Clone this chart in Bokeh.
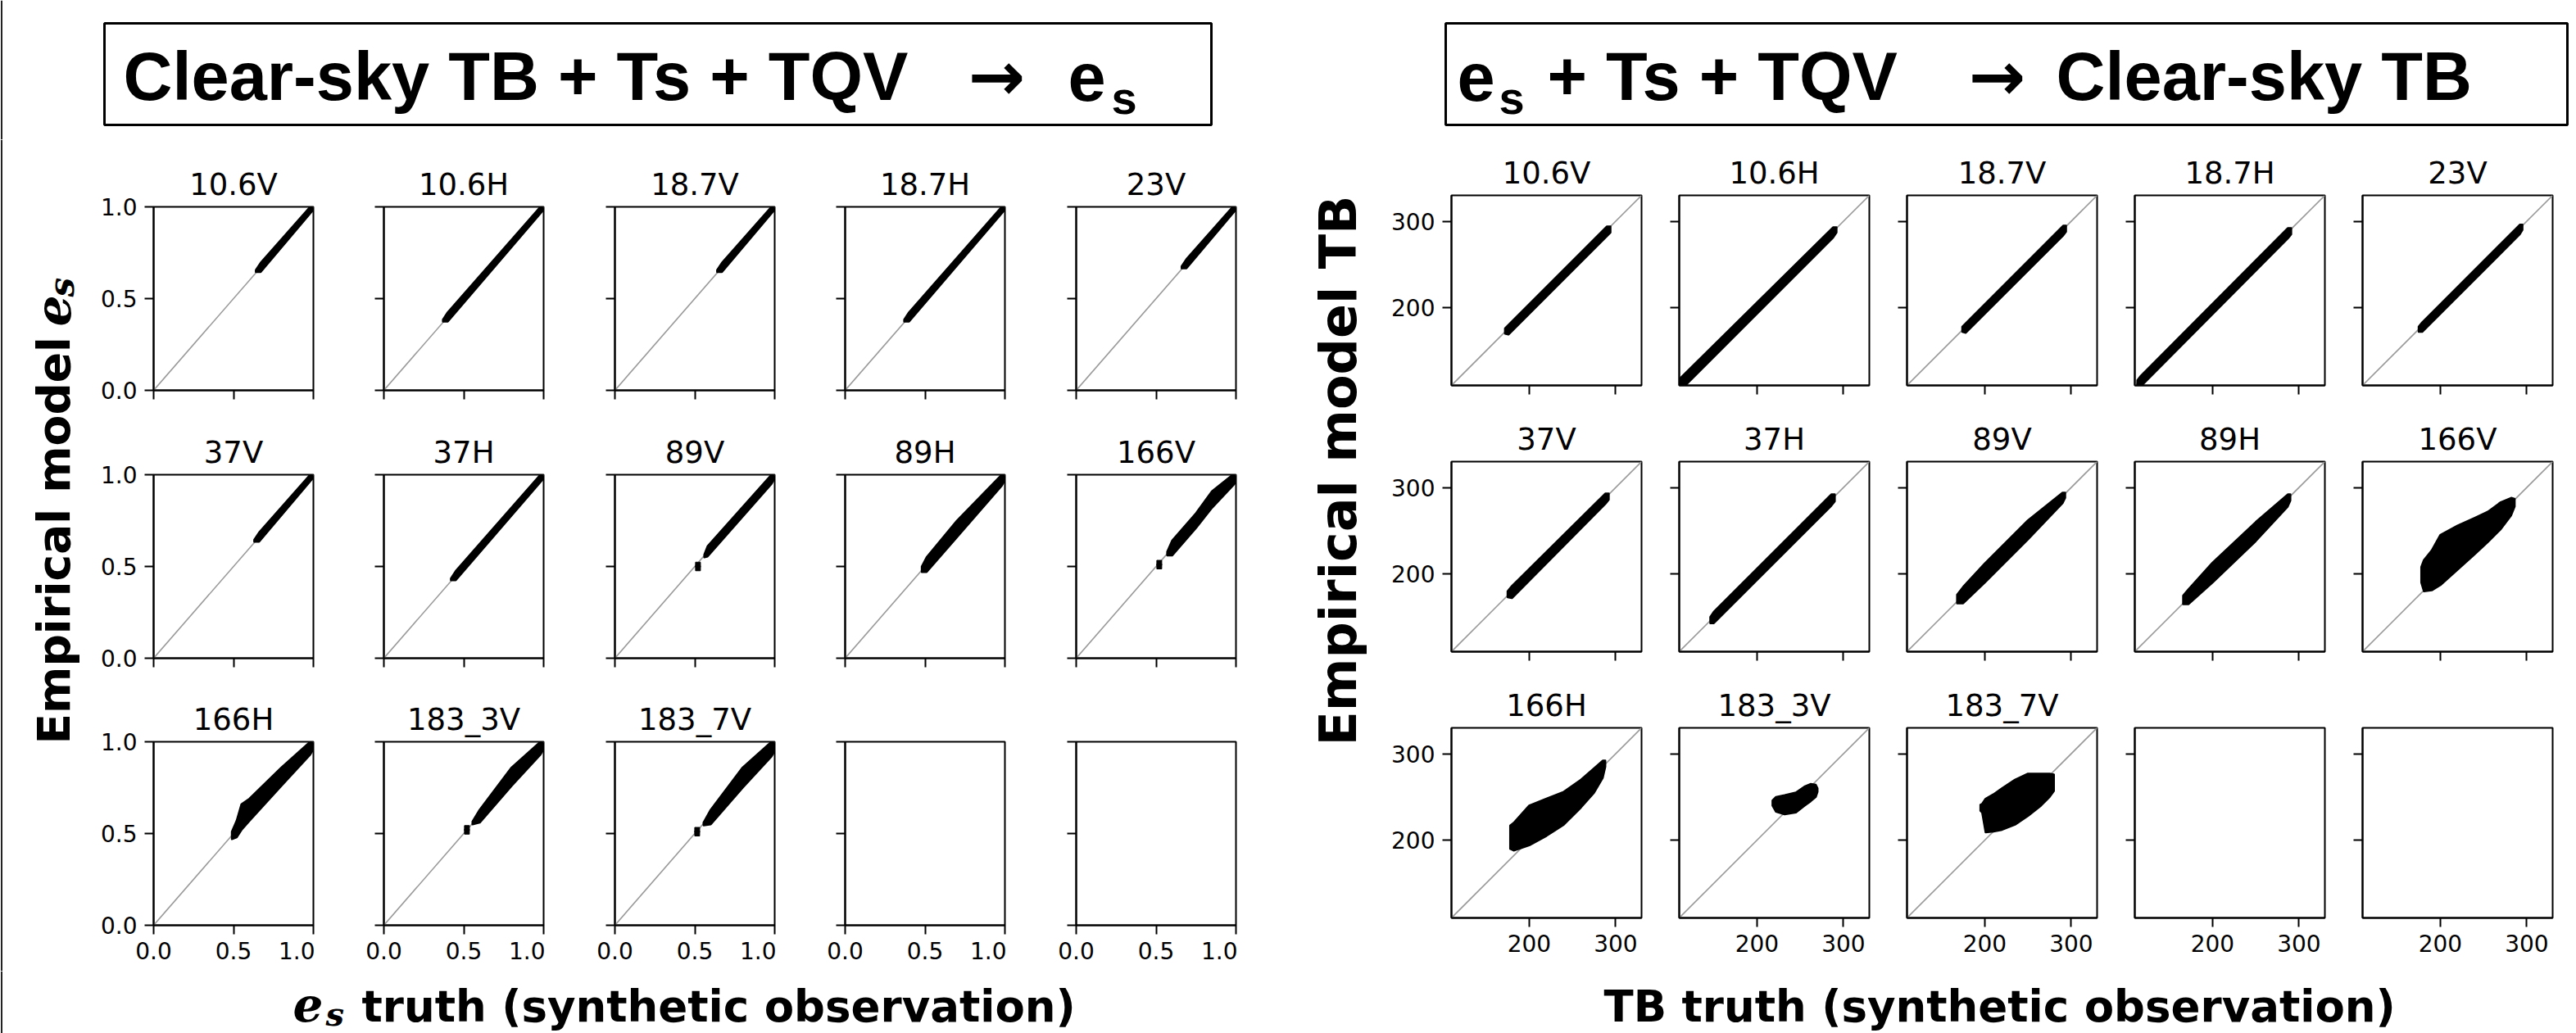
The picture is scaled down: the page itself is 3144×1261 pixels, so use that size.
import math
from bokeh.plotting import figure
from bokeh.layouts import row, column
from bokeh.models import (Range1d, Label, BoxAnnotation, FixedTicker, Span,
                          PrintfTickFormatter, CustomJSTickFormatter)
from bokeh.embed import file_html
from bokeh.resources import INLINE

# ---------------- data ----------------
channels = ["10.6V", "10.6H", "18.7V", "18.7H", "23V",
            "37V", "37H", "89V", "89H", "166V",
            "166H", "183_3V", "183_7V"]

es_limits = [0.0, 1.0]
es_ticks = [0.0, 0.5, 1.0]
tb_limits = [110.0, 330.0]
tb_ticks = [200, 300]

# emissivity panel: truth (x) with lower / upper edge of the model cloud
es_x = {
    "10.6V": [0.64, 0.67, 0.98, 1.00],
    "10.6H": [0.37, 0.40, 0.98, 1.00],
    "18.7V": [0.64, 0.67, 0.98, 1.00],
    "18.7H": [0.37, 0.40, 0.98, 1.00],
    "23V": [0.66, 0.69, 0.98, 1.00],
    "37V": [0.63, 0.66, 0.98, 1.00],
    "37H": [0.42, 0.45, 0.98, 1.00],
    "89V": [0.56, 0.58, 0.98, 1.00],
    "89H": [0.48, 0.51, 0.70, 0.98, 1.00],
    "166V": [0.57, 0.60, 0.75, 0.85, 0.98, 1.00],
    "166H": [0.49, 0.52, 0.55, 0.60, 0.80, 0.98, 1.00],
    "183_3V": [0.555, 0.60, 0.80, 0.98, 1.00],
    "183_7V": [0.555, 0.60, 0.80, 0.98, 1.00],
}
es_lo = {
    "10.6V": [0.645, 0.645, 0.965, 0.985],
    "10.6H": [0.375, 0.375, 0.965, 0.985],
    "18.7V": [0.645, 0.645, 0.965, 0.985],
    "18.7H": [0.375, 0.375, 0.965, 0.985],
    "23V": [0.665, 0.665, 0.965, 0.985],
    "37V": [0.635, 0.635, 0.965, 0.985],
    "37H": [0.425, 0.425, 0.96, 0.98],
    "89V": [0.55, 0.555, 0.95, 0.98],
    "89H": [0.47, 0.47, 0.66, 0.94, 0.97],
    "166V": [0.56, 0.56, 0.71, 0.82, 0.94, 0.96],
    "166H": [0.47, 0.48, 0.52, 0.57, 0.76, 0.93, 0.96],
    "183_3V": [0.55, 0.56, 0.76, 0.93, 0.96],
    "183_7V": [0.545, 0.55, 0.75, 0.92, 0.95],
}
es_hi = {
    "10.6V": [0.655, 0.695, 1.00, 1.00],
    "10.6H": [0.385, 0.425, 1.00, 1.00],
    "18.7V": [0.655, 0.695, 1.00, 1.00],
    "18.7H": [0.385, 0.425, 1.00, 1.00],
    "23V": [0.675, 0.715, 1.00, 1.00],
    "37V": [0.645, 0.685, 1.00, 1.00],
    "37H": [0.435, 0.475, 1.00, 1.00],
    "89V": [0.565, 0.61, 1.00, 1.00],
    "89H": [0.50, 0.55, 0.75, 1.00, 1.00],
    "166V": [0.58, 0.64, 0.79, 0.91, 1.00, 1.00],
    "166H": [0.51, 0.57, 0.66, 0.69, 0.86, 1.00, 1.00],
    "183_3V": [0.565, 0.63, 0.86, 1.00, 1.00],
    "183_7V": [0.56, 0.63, 0.86, 1.00, 1.00],
}
# isolated emissivity points
es_out_x = {"89V": [0.52, 0.52], "166V": [0.52, 0.52],
            "183_3V": [0.52, 0.52], "183_7V": [0.515, 0.515]}
es_out_y = {"89V": [0.49, 0.51], "166V": [0.50, 0.52],
            "183_3V": [0.51, 0.53], "183_7V": [0.50, 0.52]}

# brightness-temperature panel: truth (x) with lower / upper edge of the model cloud
tb_x = {
    "10.6V": [172, 176, 290, 294],
    "10.6H": [108, 112, 288, 292],
    "18.7V": [174, 178, 291, 294],
    "18.7H": [113, 117, 287, 291],
    "23V": [175, 179, 292, 295],
    "37V": [175, 180, 288, 292],
    "37H": [146, 150, 286, 290],
    "89V": [168, 175, 200, 250, 290, 293],
    "89H": [166, 172, 200, 250, 287, 290],
    "166V": [178, 181, 190, 200, 220, 240, 255, 270, 282, 286],
    "166H": [178, 182, 200, 220, 240, 260, 275, 285, 288],
    "183_3V": [218, 222, 232, 245, 255, 262, 268, 270],
    "183_7V": [195, 197, 201, 210, 220, 235, 250, 265, 275, 280],
}
tb_lo = {
    "10.6V": [170, 169, 283, 287],
    "10.6H": [104, 105, 281, 287],
    "18.7V": [172, 171, 284, 288],
    "18.7H": [110, 109, 280, 285],
    "23V": [172, 172, 285, 290],
    "37V": [173, 172, 281, 286],
    "37H": [143, 143, 279, 284],
    "89V": [166, 166, 190, 240, 282, 288],
    "89H": [165, 165, 190, 238, 278, 285],
    "166V": [190, 180, 181, 187, 205, 223, 237, 252, 268, 278],
    "166H": [190, 188, 194, 205, 218, 238, 255, 272, 285],
    "183_3V": [240, 233, 230, 232, 240, 245, 250, 256],
    "183_7V": [234, 232, 209, 210, 212, 218, 228, 240, 250, 257],
}
tb_hi = {
    "10.6V": [176, 180, 294, 294],
    "10.6H": [114, 119, 293, 293],
    "18.7V": [178, 182, 295, 295],
    "18.7H": [116, 121, 292, 292],
    "23V": [178, 183, 296, 296],
    "37V": [180, 186, 293, 293],
    "37H": [150, 156, 292, 292],
    "89V": [176, 185, 212, 262, 294, 294],
    "89H": [175, 182, 213, 260, 292, 292],
    "166V": [208, 216, 227, 245, 256, 265, 272, 283, 288, 287],
    "166H": [217, 220, 240, 248, 256, 270, 283, 292, 292],
    "183_3V": [246, 250, 252, 255, 262, 265, 264, 260],
    "183_7V": [241, 242, 248, 253, 260, 270, 277, 277, 277, 276],
}

left_title = ["Clear-sky TB + Ts + TQV", "\u2192", "e", "s"]
right_title = ["e", "s", "+ Ts + TQV", "\u2192", "Clear-sky TB"]
left_ylabel = ["Empirical model ", "e", "s"]
right_ylabel = "Empirical model TB"
left_xlabel = ["e", "s", "truth (synthetic observation)"]
right_xlabel = "TB truth (synthetic observation)"

# ---------------- helpers ----------------
DIAG = "#9a9a9a"
W, H = 3144, 1261


def style_axis(ax, ticks, fmt, show):
    ax.ticker = FixedTicker(ticks=ticks)
    ax.axis_line_width = 2
    ax.axis_line_color = "black"
    ax.major_tick_line_width = 2
    ax.major_tick_line_color = "black"
    ax.major_tick_out = 11
    ax.major_tick_in = 0
    ax.minor_tick_line_color = None
    ax.major_label_standoff = 9
    ax.major_label_text_font = "DejaVu Sans"
    ax.major_label_text_color = "black"
    if show:
        ax.formatter = PrintfTickFormatter(format=fmt)
        ax.major_label_text_font_size = "28px"
    else:
        ax.formatter = CustomJSTickFormatter(code="return ''")
        ax.major_label_text_font_size = "0px"


def make_sub(name, lim, ticks, fmt, cx, clo, chi, ox, oy,
             show_x, show_y, L, T, B, fw, fh):
    R = 2
    p = figure(width=L + fw + R, height=T + fh + B,
               x_range=Range1d(lim[0], lim[1]), y_range=Range1d(lim[0], lim[1]),
               min_border_left=L, min_border_right=R,
               min_border_top=T, min_border_bottom=B,
               output_backend="svg", toolbar_location=None,
               title=name if name else "")
    p.title.align = "center"
    p.title.text_font = "DejaVu Sans"
    p.title.text_font_size = "37px"
    p.title.text_font_style = "normal"
    p.title.text_color = "black"
    p.title.standoff = 12
    p.grid.visible = False
    p.outline_line_color = "black"
    p.outline_line_width = 2
    p.background_fill_color = "white"
    p.border_fill_color = "white"
    style_axis(p.xaxis[0], ticks, fmt, show_x)
    style_axis(p.yaxis[0], ticks, fmt, show_y)
    if name:
        p.line(lim, lim, color=DIAG, line_width=1.6)
        px = cx + cx[::-1]
        py = chi + clo[::-1]
        p.patch(px, py, fill_color="black", line_color="black",
                line_width=2.5, line_join="round")
        if ox:
            p.scatter(ox, oy, marker="square", size=6, color="black")
    return p


def canvas(x0, x1, y0, y1):
    # a text canvas whose data coordinates are page pixels (y downward)
    p = figure(width=x1 - x0, height=y1 - y0,
               x_range=Range1d(x0, x1), y_range=Range1d(y1, y0),
               min_border=0, output_backend="svg", toolbar_location=None,
               x_axis_location=None, y_axis_location=None)
    p.outline_line_color = None
    p.grid.visible = False
    p.background_fill_color = "white"
    p.border_fill_color = "white"
    return p


DESC = {"Liberation Sans": 0.212, "DejaVu Sans": 0.236, "DejaVu Serif": 0.236}


def txt(p, x, y, s, size, font="DejaVu Sans", style="bold", rotated=False, has_desc=True):
    # (x, y) is the alphabetic baseline start; anchor on the text box bottom
    d = DESC[font] * size if has_desc else 0.0
    if rotated:
        lx, ly, ang = x + d, y, math.pi / 2
    else:
        lx, ly, ang = x, y + d, 0.0
    p.add_layout(Label(x=lx, y=ly, text=s, text_font=font,
                       text_font_size=f"{size}px", text_font_style=style,
                       text_color="black", angle=ang, angle_units="rad",
                       text_align="left", text_baseline="bottom"))


def edge(p):
    p.add_layout(Span(location=1.5, dimension="height",
                      line_color="#222222", line_width=2))


# ---------------- header ----------------
head = canvas(0, W, 0, 170)
edge(head)
for l, r in ((127, 1478), (1764, 3133)):
    head.add_layout(BoxAnnotation(left=l, right=r, top=28, bottom=152,
                                  fill_alpha=0, line_color="black",
                                  line_alpha=1.0, line_width=3))
HF = "Liberation Sans"
txt(head, 150, 122, left_title[0], 83, HF)
txt(head, 1181, 122, left_title[1], 83, "DejaVu Sans")
txt(head, 1303, 122, left_title[2], 83, HF, has_desc=False)
txt(head, 1356, 150, left_title[3], 56, HF, has_desc=False)
txt(head, 1778, 122, right_title[0], 83, HF, has_desc=False)
txt(head, 1829, 150, right_title[1], 56, HF, has_desc=False)
txt(head, 1888, 122, right_title[2], 83, HF)
txt(head, 2402, 122, right_title[3], 83, "DejaVu Sans")
txt(head, 2509, 122, right_title[4], 83, HF)

# ---------------- subplot grids ----------------
left_L = [87, 84, 85, 84, 85]
left_T = [82, 73, 72]
left_B = [30, 30, 56]
right_L = [81, 44, 44, 44, 44]
right_T = [68, 63, 63]
right_B = [30, 30, 65]

left_rows, right_rows = [], []
for r in range(3):
    lrow, rrow = [], []
    for c in range(5):
        i = r * 5 + c
        name = channels[i] if i < len(channels) else None
        lrow.append(make_sub(
            name, es_limits, es_ticks, "%.1f",
            es_x.get(name, []), es_lo.get(name, []), es_hi.get(name, []),
            es_out_x.get(name, []), es_out_y.get(name, []),
            r == 2, c == 0, left_L[c], left_T[r], left_B[r], 195, 224))
        rrow.append(make_sub(
            name, tb_limits, tb_ticks, "%d",
            tb_x.get(name, []), tb_lo.get(name, []), tb_hi.get(name, []),
            [], [],
            r == 2, c == 0, right_L[c], right_T[r], right_B[r], 232, 232))
    left_rows.append(row(lrow, spacing=0))
    right_rows.append(row(rrow, spacing=0))
left_grid = column(left_rows, spacing=0)
right_grid = column(right_rows, spacing=0)

# ---------------- y labels ----------------
ylab_l = canvas(0, 100, 170, 1185)
edge(ylab_l)
txt(ylab_l, 85, 908, left_ylabel[0], 55, rotated=True)
txt(ylab_l, 85, 398, left_ylabel[1], 60, font="DejaVu Serif", style="bold italic",
    rotated=True, has_desc=False)
txt(ylab_l, 99, 362, left_ylabel[2], 42, font="DejaVu Serif", style="bold italic",
    rotated=True, has_desc=False)

ylab_r = canvas(1510, 1690, 170, 1185)
txt(ylab_r, 1655, 910, right_ylabel, 62, rotated=True)

# ---------------- footer ----------------
foot = canvas(0, W, 1185, H)
edge(foot)
txt(foot, 357, 1246, left_xlabel[0], 58, font="DejaVu Serif", style="bold italic",
    has_desc=False)
txt(foot, 397, 1260, left_xlabel[1], 40, font="DejaVu Serif", style="bold italic",
    has_desc=False)
txt(foot, 441, 1246, left_xlabel[2], 53)
txt(foot, 1957, 1246, right_xlabel, 53)

layout = column(head,
                row(ylab_l, left_grid, ylab_r, right_grid, spacing=0),
                foot, spacing=0)

open("out.html", "w").write(file_html(layout, INLINE))
